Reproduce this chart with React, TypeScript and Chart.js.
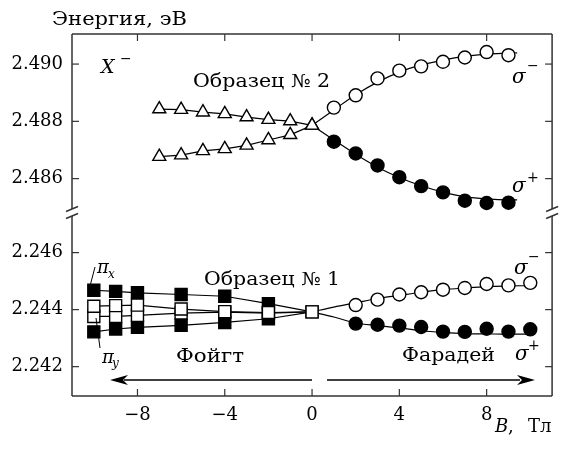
import React, { useEffect, useRef } from 'react';
import { Chart, registerables } from 'chart.js';

Chart.register(...registerables);

// ---------- data ----------
const xTicks = [-8, -4, 0, 4, 8];
const yTopTicks = [2.486, 2.488, 2.49];
const yBotTicks = [2.242, 2.244, 2.246];

// Sample No 2 (upper panel)
const s2TriB = [-7, -6, -5, -4, -3, -2, -1, 0];
const s2TriUpper = [2.48843, 2.48841, 2.48832, 2.48826, 2.48815, 2.48806, 2.48801, 2.48786];
const s2TriLower = [2.48677, 2.48682, 2.48697, 2.48704, 2.48716, 2.48735, 2.48753, 2.48786];
const s2CircB = [1, 2, 3, 4, 5, 6, 7, 8, 9];
const s2SigmaMinus = [2.48848, 2.48891, 2.4895, 2.48977, 2.48992, 2.49008, 2.49023, 2.49042, 2.49031];
const s2SigmaPlus = [2.48729, 2.48688, 2.48646, 2.48605, 2.48574, 2.48552, 2.48523, 2.48515, 2.48516];
const s2FitB = [0, 1, 2, 3, 4, 5, 6, 7, 8, 9, 9.4];
const s2FitMinus = [2.48786, 2.4884, 2.48893, 2.48937, 2.48972, 2.48997, 2.49014, 2.49027, 2.49035, 2.49038, 2.49039];
const s2FitPlus = [2.48786, 2.48735, 2.48685, 2.4864, 2.48604, 2.48575, 2.48553, 2.48537, 2.48529, 2.48526, 2.48526];

// Sample No 1 (lower panel)
const s1SqB = [-10, -9, -8, -6, -4, -2, 0];
const s1FilledUpper = [2.24468, 2.24464, 2.24459, 2.24453, 2.24447, 2.24421, 2.24392];
const s1OpenUpper = [2.24412, 2.24414, 2.24416, 2.24402, 2.24393, 2.2439, 2.24392];
const s1OpenLower = [2.24376, 2.24376, 2.2438, 2.24388, 2.24391, 2.24388, 2.24392];
const s1FilledLower = [2.24322, 2.24332, 2.24338, 2.24345, 2.24355, 2.24368, 2.24392];
const s1CircB = [2, 3, 4, 5, 6, 7, 8, 9, 10];
const s1SigmaMinus = [2.24416, 2.24435, 2.24453, 2.24461, 2.2447, 2.24476, 2.2449, 2.24485, 2.24494];
const s1SigmaPlus = [2.24351, 2.24347, 2.24344, 2.24339, 2.24323, 2.24322, 2.24333, 2.24323, 2.24331];
const s1FitB = [0, 1, 2, 3, 4, 5, 6, 7, 8, 9, 10];
const s1FitMinus = [2.24392, 2.24409, 2.24424, 2.24439, 2.2445, 2.24461, 2.2447, 2.24476, 2.24481, 2.24483, 2.24484];
const s1FitPlus = [2.24392, 2.24374, 2.24353, 2.24344, 2.24336, 2.24326, 2.2432, 2.24316, 2.24315, 2.24314, 2.24314];

const xRange = [-11, 11];
const yTopRange = [2.4848, 2.49105];
const yBotRange = [2.24097, 2.24739];

const FONT = '"DejaVu Serif", serif';

const pts = (xs: number[], ys: number[]) => xs.map((x, i) => ({ x, y: ys[i] }));
const fmtX = (v: number) => (v < 0 ? '\u2212' + Math.abs(v) : String(v));

const decor = {
  id: 'decor',
  beforeDatasetsDraw(chart: any) {
    const ctx = chart.ctx;
    const { left, right, top, bottom } = chart.chartArea;
    const sx = chart.scales.x;
    const yT = chart.scales.yTop;
    const yB = chart.scales.yBot;
    const brk = yT.bottom;
    const gapTop = brk - 4;
    const gapBot = brk + 3;
    ctx.save();
    ctx.strokeStyle = '#333';
    ctx.lineWidth = 1.5;
    const line = (a: number, b: number, c: number, d: number) => {
      ctx.beginPath();
      ctx.moveTo(a, b);
      ctx.lineTo(c, d);
      ctx.stroke();
    };
    line(left, top, right, top);
    line(left, bottom, right, bottom);
    for (const ex of [left, right]) {
      line(ex, top, ex, gapTop);
      line(ex, gapBot, ex, bottom);
      line(ex - 6, gapTop + 2.5, ex + 6, gapTop - 2.5);
      line(ex - 6, gapBot + 2.5, ex + 6, gapBot - 2.5);
    }
    ctx.lineWidth = 1.2;
    for (const v of xTicks) {
      const p = sx.getPixelForValue(v);
      line(p, bottom, p, bottom - 7);
      line(p, top, p, top + 7);
    }
    for (const v of yTopTicks) {
      const p = yT.getPixelForValue(v);
      line(left, p, left + 7, p);
      line(right, p, right - 7, p);
    }
    for (const v of yBotTicks) {
      const p = yB.getPixelForValue(v);
      line(left, p, left + 7, p);
      line(right, p, right - 7, p);
    }
    ctx.restore();
  },
  afterDraw(chart: any) {
    const ctx = chart.ctx;
    ctx.save();
    ctx.fillStyle = '#000';
    ctx.textBaseline = 'alphabetic';
    ctx.textAlign = 'left';
    const t = (s: string, x: number, y: number, size: number, italic = false, w?: number) => {
      ctx.font = `${italic ? 'italic ' : ''}${size}px ${FONT}`;
      if (w) {
        const m = ctx.measureText(s).width;
        ctx.save();
        ctx.translate(x, y);
        ctx.scale(w / m, 1);
        ctx.fillText(s, 0, 0);
        ctx.restore();
      } else {
        ctx.fillText(s, x, y);
      }
    };
    t('Энергия, эВ', 52, 25, 18, false, 135);
    t('X', 101, 73, 19, true);
    t('\u2212', 120, 63, 14);
    t('Образец № 2', 193, 87, 18, false, 137);
    t('σ', 512, 83, 20, true);
    t('\u2212', 527, 70, 14);
    t('σ', 512, 192, 20, true);
    t('+', 527, 182, 14);
    t('Образец № 1', 204, 285, 18, false, 136);
    t('σ', 514, 274, 20, true);
    t('\u2212', 528, 261, 14);
    t('Фойгт', 176, 362, 18, false, 68);
    t('Фарадей', 402, 361, 18, false, 93);
    t('σ', 515, 360, 20, true);
    t('+', 528, 350, 14);
    t('π', 97, 273, 18, true);
    t('x', 108, 278, 12, true);
    t('π', 102, 363, 18, true);
    t('y', 112, 367, 12, true);
    t('B', 495, 432, 18, true);
    t(',', 508, 432, 18);
    t('Тл', 528, 432, 18);

    ctx.strokeStyle = '#000';
    ctx.lineWidth = 1;
    const line = (a: number, b: number, c: number, d: number) => {
      ctx.beginPath();
      ctx.moveTo(a, b);
      ctx.lineTo(c, d);
      ctx.stroke();
    };
    line(90, 286, 95, 267);
    line(96, 318, 100, 348);

    // arrows
    const ay = 380;
    ctx.lineWidth = 1.3;
    line(312, ay, 124, ay);
    line(327, ay, 520, ay);
    const head = (tipX: number, dir: number) => {
      ctx.beginPath();
      ctx.moveTo(tipX, ay);
      ctx.lineTo(tipX + dir * 18, ay - 5);
      ctx.lineTo(tipX + dir * 13, ay);
      ctx.lineTo(tipX + dir * 18, ay + 5);
      ctx.closePath();
      ctx.fill();
    };
    head(110, 1);
    head(535, -1);
    ctx.restore();
  },
};

export default function App() {
  const ref = useRef<HTMLCanvasElement | null>(null);
  useEffect(() => {
    if (!ref.current) return;
    const lineDs = (data: any[], yAxisID: string, smooth = false) => ({
      data,
      yAxisID,
      showLine: true,
      borderColor: '#000',
      borderWidth: 1.2,
      pointRadius: 0,
      tension: smooth ? 0.4 : 0,
      cubicInterpolationMode: smooth ? 'monotone' : 'default',
      order: 10,
    });
    const markDs = (
      data: any[],
      yAxisID: string,
      style: string,
      r: number,
      fill: string,
      connect: boolean,
      hideAt0 = false,
      order = 2
    ) => ({
      data,
      yAxisID,
      showLine: connect,
      borderColor: '#000',
      borderWidth: 1.2,
      pointStyle: style,
      pointRadius: hideAt0 ? (c: any) => (c.raw && c.raw.x === 0 ? 0 : r) : r,
      pointBackgroundColor: fill,
      pointBorderColor: '#000',
      pointBorderWidth: 1.4,
      tension: 0,
      order,
    });
    const tickFont = { family: FONT, size: 18 };
    const chart = new Chart(ref.current, {
      type: 'scatter',
      data: {
        datasets: [
          lineDs(pts(s2FitB, s2FitMinus), 'yTop', true),
          lineDs(pts(s2FitB, s2FitPlus), 'yTop', true),
          lineDs(pts(s1FitB, s1FitMinus), 'yBot', true),
          lineDs(pts(s1FitB, s1FitPlus), 'yBot', true),
          markDs(pts(s2TriB, s2TriUpper), 'yTop', 'triangle', 7.5, '#fff', true),
          markDs(pts(s2TriB, s2TriLower), 'yTop', 'triangle', 7.5, '#fff', true),
          markDs(pts(s2CircB, s2SigmaMinus), 'yTop', 'circle', 6.5, '#fff', false),
          markDs(pts(s2CircB, s2SigmaPlus), 'yTop', 'circle', 6.5, '#000', false),
          markDs(pts(s1SqB, s1FilledUpper), 'yBot', 'rect', 8.5, '#000', true, true, 3),
          markDs(pts(s1SqB, s1FilledLower), 'yBot', 'rect', 8.5, '#000', true, true, 3),
          markDs(pts(s1SqB, s1OpenUpper), 'yBot', 'rect', 8.5, '#fff', true, false, 1),
          markDs(pts(s1SqB, s1OpenLower), 'yBot', 'rect', 8.5, '#fff', true, false, 1),
          markDs(pts(s1CircB, s1SigmaMinus), 'yBot', 'circle', 6.5, '#fff', false),
          markDs(pts(s1CircB, s1SigmaPlus), 'yBot', 'circle', 6.5, '#000', false),
        ] as any,
      },
      options: {
        responsive: false,
        animation: false,
        devicePixelRatio: 1,
        layout: { padding: { left: 0, right: 3, top: 34, bottom: 21 } },
        plugins: { legend: { display: false }, tooltip: { enabled: false }, title: { display: false } },
        events: [],
        scales: {
          x: {
            type: 'linear',
            position: 'bottom',
            min: xRange[0],
            max: xRange[1],
            grid: { display: false, drawTicks: false },
            border: { display: false },
            afterBuildTicks: (s: any) => {
              s.ticks = xTicks.map((v) => ({ value: v }));
            },
            afterFit: (s: any) => {
              s.height = 40;
            },
            ticks: {
              autoSkip: false,
              maxRotation: 0,
              padding: 9,
              color: '#000',
              font: tickFont,
              callback: (v: any) => fmtX(Number(v)),
            },
          },
          yBot: {
            type: 'linear',
            position: 'left',
            stack: 'y',
            stackWeight: 183,
            weight: 0,
            min: yBotRange[0],
            max: yBotRange[1],
            grid: { display: false, drawTicks: false },
            border: { display: false },
            afterBuildTicks: (s: any) => {
              s.ticks = yBotTicks.map((v) => ({ value: v }));
            },
            afterFit: (s: any) => {
              s.width = 72;
            },
            ticks: {
              padding: 9,
              color: '#000',
              font: tickFont,
              callback: (v: any) => Number(v).toFixed(3),
            },
          },
          yTop: {
            type: 'linear',
            position: 'left',
            stack: 'y',
            stackWeight: 179,
            weight: 1,
            min: yTopRange[0],
            max: yTopRange[1],
            grid: { display: false, drawTicks: false },
            border: { display: false },
            afterBuildTicks: (s: any) => {
              s.ticks = yTopTicks.map((v) => ({ value: v }));
            },
            afterFit: (s: any) => {
              s.width = 72;
            },
            ticks: {
              padding: 9,
              color: '#000',
              font: tickFont,
              callback: (v: any) => Number(v).toFixed(3),
            },
          },
        },
      } as any,
      plugins: [decor],
    });
    return () => chart.destroy();
  }, []);
  return (
    <div style={{ position: 'absolute', left: 0, top: 0, width: 562, height: 457, background: '#fff' }}>
      <canvas ref={ref} width={562} height={457} style={{ display: 'block' }} />
    </div>
  );
}
